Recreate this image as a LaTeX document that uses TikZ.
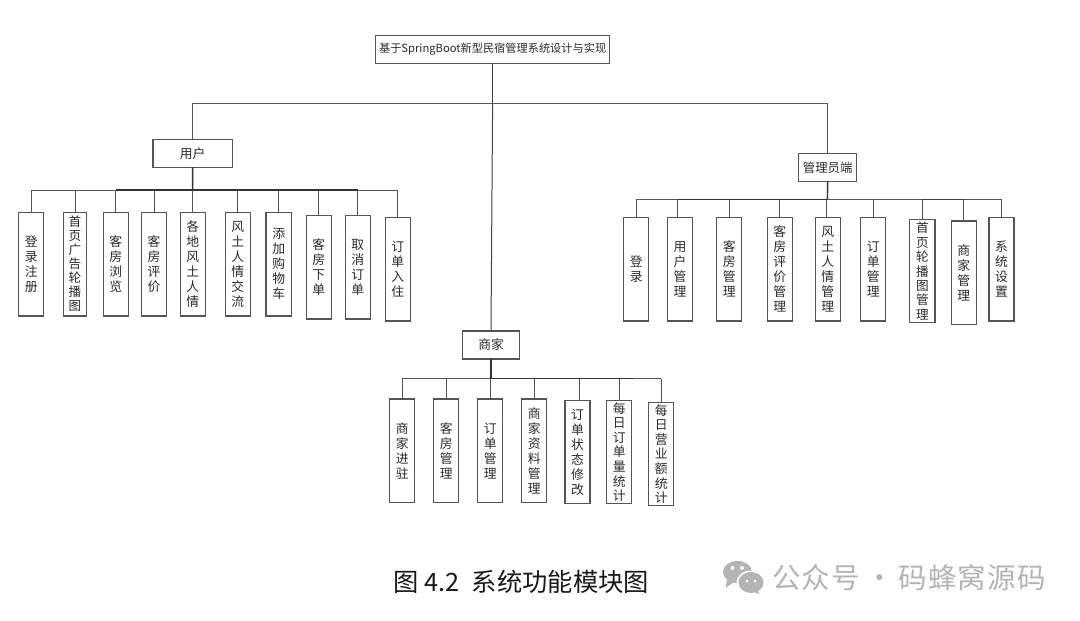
\documentclass[tikz,border=0pt]{standalone}
\usepackage{fontspec}
\setmainfont{Noto Sans CJK SC}
\newfontfamily\wmfont[LetterSpace=4]{Noto Sans CJK SC}
\definecolor{ln}{HTML}{555555}
\definecolor{tx}{HTML}{2A2A2A}
\definecolor{wm}{HTML}{B4B4B4}
\tikzset{
  box/.style={draw=ln,line width=1.1pt,inner sep=0pt,outer sep=0pt,align=center,text=tx,font=\fontsize{12.8}{15}\selectfont},
  tight/.style={font=\fontsize{12.6}{14}\selectfont},
  link/.style={draw=ln,line width=1pt},
  heavy/.style={draw=black!80,line width=1.4pt},
}
\newcommand{\bx}[7][]{%
  \node[box,#1,minimum width={(#4-#2)*1pt},minimum height={(#5-#3)*1pt}] (#6) at ({(#2+#4)/2},{(#3+#5)/2}) {#7};}
\begin{document}
\begin{tikzpicture}[x=1pt,y=-1pt]
\fill[white] (0,0) rectangle (1080,621);
\useasboundingbox (0,0) rectangle (1080,621);
% boxes
\bx[font=\fontsize{11.2}{14}\selectfont]{375.6}{35.5}{609.7}{63.7}{root}{基于SpringBoot新型民宿管理系统设计与实现}
\bx{153}{139.3}{232.3}{167.3}{user}{用户}
\bx[font=\fontsize{12.4}{15}\selectfont]{798.7}{153.3}{856.7}{181.3}{admin}{管理员端}
\bx{462.7}{331}{519.7}{359}{shop}{商家}
% user row
\bx{18.7}{212.3}{43.7}{316}{u1}{登\\录\\注\\册}
\bx[tight]{63.3}{212.3}{86.7}{316}{u2}{首\\页\\广\\告\\轮\\播\\图}
\bx{103.3}{212.3}{128.3}{316}{u3}{客\\房\\浏\\览}
\bx{141.3}{212.3}{166.7}{316}{u4}{客\\房\\评\\价}
\bx{180.3}{212.3}{205.3}{316}{u5}{各\\地\\风\\土\\人\\情}
\bx{225.3}{212.3}{250.3}{316}{u6}{风\\土\\人\\情\\交\\流}
\bx{266}{212.3}{291.3}{316}{u7}{添\\加\\购\\物\\车}
\bx{306.3}{215.7}{331.3}{319}{u8}{客\\房\\下\\单}
\bx{345.3}{215.7}{370.3}{319}{u9}{取\\消\\订\\单}
\bx{385.3}{217.7}{410.3}{321}{u10}{订\\单\\入\\住}
% admin row
\bx{623.7}{217.7}{648.7}{321}{a1}{登\\录}
\bx{667.3}{217.7}{692.7}{321}{a2}{用\\户\\管\\理}
\bx{716.7}{217.7}{741.7}{321}{a3}{客\\房\\管\\理}
\bx{767.3}{217.7}{792.3}{321}{a4}{客\\房\\评\\价\\管\\理}
\bx{815.3}{217.7}{840.3}{321}{a5}{风\\土\\人\\情\\管\\理}
\bx{860.7}{217.7}{885.7}{321}{a6}{订\\单\\管\\理}
\bx[font=\fontsize{12.6}{14.4}\selectfont]{909.7}{219.3}{935}{322.7}{a7}{首\\页\\轮\\播\\图\\管\\理}
\bx{951.3}{221}{976.3}{324.3}{a8}{商\\家\\管\\理}
\bx{989}{217.7}{1014}{321}{a9}{系\\统\\设\\置}
% shop row
\bx{389.7}{399}{414.7}{502.3}{s1}{商\\家\\进\\驻}
\bx{433.7}{399}{458.7}{502.3}{s2}{客\\房\\管\\理}
\bx{477.7}{399}{502.7}{502.3}{s3}{订\\单\\管\\理}
\bx{521.7}{399}{546.7}{502.3}{s4}{商\\家\\资\\料\\管\\理}
\bx{565}{400.3}{590}{503.7}{s5}{订\\单\\状\\态\\修\\改}
\bx[font=\fontsize{12.8}{14.6}\selectfont]{606.7}{400.3}{631.7}{503.7}{s6}{每\\日\\订\\单\\量\\统\\计}
\bx[font=\fontsize{12.8}{14.6}\selectfont]{648.7}{402.3}{673.7}{505.7}{s7}{每\\日\\营\\业\\额\\统\\计}
% bus coordinates
\coordinate (rootbus) at (492.6,103.3);
\coordinate (userbus) at (192.7,190);
\coordinate (adminbus) at (827.4,199.7);
\coordinate (shopbus) at (491,378.7);
% top level
\draw[link,draw=black!75] (root.south -| rootbus) -- (rootbus);
\draw[link,draw=black!75] (rootbus) -- (shop.north -| shopbus);
\draw[link] (user.north) |- (rootbus);
\draw[link] (admin.north) |- (rootbus);
% user tree
\draw[link] (u1.north |- userbus) -- (u10.north |- userbus);
\foreach \n in {u1,u2,u3,u4,u5,u6,u7,u8,u9,u10}{\draw[link] (\n.north) -- (\n.north |- userbus);}
\draw[heavy] (user.south) -- (userbus);
\draw[heavy] (u3.north |- userbus) -- (u9.north |- userbus);
% admin tree
\draw[link] (a1.north |- adminbus) -- (a9.north |- adminbus);
\foreach \n in {a1,a3,a4,a6,a7,a8,a9}{\draw[link] (\n.north) -- (\n.north |- adminbus);}
\draw[link] ([xshift=-2.3pt]a2.north) -- ([xshift=-2.3pt]a2.north |- adminbus);
\draw[link] ([xshift=-1.8pt]a5.north) -- ([xshift=-1.8pt]a5.north |- adminbus);
\draw[heavy] (admin.south) -- (adminbus);
\draw[heavy] ([xshift=-2.3pt]a2.north |- adminbus) -- (adminbus);
\draw[link,draw=black!75] (a7.north |- adminbus) -- (a8.north |- adminbus);
% shop tree
\draw[link] (s1.north |- shopbus) -- (s7.north |- shopbus);
\foreach \n in {s1,s2,s3,s4,s6,s7}{\draw[link] (\n.north) -- (\n.north |- shopbus);}
\draw[link] ([xshift=2.2pt]s5.north) -- ([xshift=2.2pt]s5.north |- shopbus);
\draw[heavy] (shop.south -| shopbus) -- (shopbus);
\draw[heavy] (shopbus) -- (s6.north |- shopbus) -- ++(14,0);
% caption
\node[anchor=west,inner sep=0pt,text=black!90,font=\fontsize{25.3}{30}\selectfont] (cap) at (393,582) {图 4.2\hspace{0.5em}系统功能模块图};
% watermark
\fill[wm] (737.5,572) ellipse [x radius=14.5,y radius=11];
\fill[wm] (727,580) -- (725.5,588) -- (734,582) -- cycle;
\fill[white] (751,582.5) ellipse [x radius=14.5,y radius=12];
\fill[wm] (751,582.5) ellipse [x radius=12.5,y radius=10.5];
\fill[wm] (757,589) -- (759.5,594) -- (750,591) -- cycle;
\fill[white] (732.5,568) circle (2) (742,568) circle (2) (747,581) circle (1.5) (755,581) circle (1.5);
\node[anchor=west,inner sep=0pt,text=wm,font=\wmfont\fontsize{28.5}{32}\selectfont] (wmark) at (772,578) {公众号\hspace{0.18em}·\hspace{0.18em}码蜂窝源码};
\end{tikzpicture}
\end{document}
